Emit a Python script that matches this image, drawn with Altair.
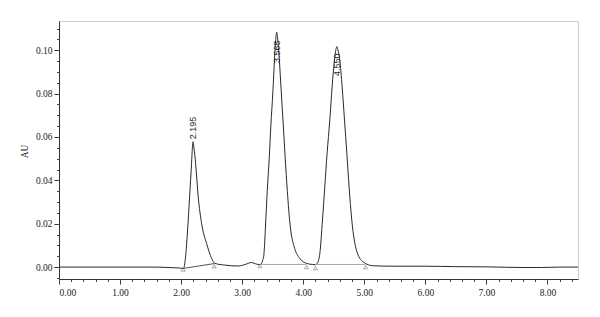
import altair as alt
import pandas as pd

# Chromatogram trace (retention time in min, absorbance in AU)
time = [0.00, 0.50, 1.00, 1.50, 1.80, 1.95, 2.04, 2.07, 2.106, 2.139, 2.171, 2.185, 2.195,
        2.208, 2.237, 2.28, 2.335, 2.417, 2.50, 2.553, 2.72, 2.93, 3.05, 3.15, 3.22, 3.29,
        3.317, 3.34, 3.355, 3.383, 3.41, 3.443, 3.47, 3.503, 3.53, 3.55, 3.565, 3.582,
        3.607, 3.64, 3.673, 3.705, 3.74, 3.785, 3.86, 3.944, 4.054, 4.15, 4.20,
        4.22, 4.25, 4.272, 4.315, 4.353, 4.391, 4.435, 4.473, 4.512, 4.535, 4.55, 4.567,
        4.599, 4.637, 4.676, 4.714, 4.751, 4.795, 4.872, 4.98, 5.145, 5.50, 6.00, 6.50,
        7.00, 7.60, 7.90, 8.20, 8.50]
absorb = [0.0000, 0.0000, 0.0000, 0.0000, -0.0002, -0.0004, -0.0006, 0.0040, 0.0171, 0.0324, 0.0479, 0.0552, 0.0578,
          0.0555, 0.0479, 0.0324, 0.0202, 0.0109, 0.0040, 0.0017, 0.0009, 0.0005, 0.0012, 0.0021, 0.0015, 0.0011,
          0.0017, 0.0035, 0.0055, 0.0194, 0.0348, 0.0502, 0.0655, 0.0809, 0.0963, 0.1050, 0.1083, 0.1052,
          0.0963, 0.0809, 0.0655, 0.0502, 0.0348, 0.0194, 0.0086, 0.0040, 0.0017, 0.0012, 0.0011,
          0.0014, 0.0030, 0.0063, 0.0217, 0.0370, 0.0525, 0.0678, 0.0832, 0.0955, 0.1003, 0.1017, 0.1003,
          0.0955, 0.0832, 0.0678, 0.0525, 0.0370, 0.0217, 0.0078, 0.0024, 0.0006, 0.0004, 0.0004, 0.0002,
          0.0001, -0.0002, -0.0002, 0.0000, 0.0000]

# Peak labels
peak_text = ["2.195", "3.565", "4.550"]
peak_rt = [2.195, 3.565, 4.550]
peak_label_y = [0.0590, 0.0941, 0.0881]

# Integration baseline segments
seg_t1 = [2.034, 3.29, 4.20]
seg_v1 = [-0.0006, 0.0012, 0.0012]
seg_t2 = [2.542, 4.054, 5.02]
seg_v2 = [0.0016, 0.0012, 0.0012]
seg_kind = ["dark", "light", "light"]

# Integration markers
marker_t = [2.034, 2.542, 3.29, 4.054, 4.20, 5.02]
marker_v = [-0.0011, 0.0004, 0.0005, 0.0000, -0.0005, 0.0000]

# Axis ticks
x_major = [0, 1, 2, 3, 4, 5, 6, 7, 8]
x_minor = [i / 5 for i in range(0, 43)]
y_major = [0.0, 0.02, 0.04, 0.06, 0.08, 0.10]
y_minor = [-0.005 + i * 0.005 for i in range(0, 25)]

curve_df = pd.DataFrame({"t": time, "v": absorb})
label_df = pd.DataFrame({"t": peak_rt, "v": peak_label_y, "txt": peak_text})
seg_df = pd.DataFrame({"t": seg_t1, "v": seg_v1, "t2": seg_t2, "v2": seg_v2, "kind": seg_kind})
marker_df = pd.DataFrame({"t": marker_t, "v": marker_v})

xs = alt.Scale(domain=[0, 8.5], nice=False, zero=False)
ys = alt.Scale(domain=[-0.0055, 0.1135], nice=False, zero=False)

serif = "Liberation Serif"

x_axis_major = alt.Axis(values=x_major, format=".2f", title=None, orient="bottom",
                        tickSize=5, tickColor="#333", domainColor="#333", grid=False,
                        labelFont=serif, labelFontSize=9.5, labelColor="#222", labelPadding=3)
y_axis_major = alt.Axis(values=y_major, format=".2f", title="AU", orient="left",
                        tickSize=5, tickColor="#333", domainColor="#333", grid=False,
                        labelFont=serif, labelFontSize=9.5, labelColor="#222", labelPadding=2,
                        titleFont=serif, titleFontSize=9.5, titleFontWeight="normal",
                        titleColor="#222", titleX=-35, titleY=130, titleBaseline="middle")
x_axis_minor = alt.Axis(values=x_minor, labels=False, title=None, orient="bottom", domain=False,
                        tickSize=2.5, tickColor="#444", grid=False)
y_axis_minor = alt.Axis(values=y_minor, labels=False, title=None, orient="left", domain=False,
                        tickSize=2.5, tickColor="#444", grid=False)

curve = alt.Chart(curve_df).mark_line(color="#2a2a2a", strokeWidth=1, interpolate="monotone").encode(
    x=alt.X("t:Q", scale=xs, axis=x_axis_major),
    y=alt.Y("v:Q", scale=ys, axis=y_axis_major),
)

segs = alt.Chart(seg_df).mark_rule(strokeWidth=1).encode(
    x=alt.X("t:Q", scale=xs, axis=x_axis_minor),
    y=alt.Y("v:Q", scale=ys, axis=y_axis_minor),
    x2="t2:Q",
    y2="v2:Q",
    color=alt.Color("kind:N", scale=alt.Scale(domain=["dark", "light"], range=["#555555", "#aaaaaa"]), legend=None),
)

markers = alt.Chart(marker_df).mark_point(shape="triangle-up", size=16, filled=False,
                                          color="#555", strokeWidth=0.7).encode(
    x=alt.X("t:Q", scale=xs, axis=None),
    y=alt.Y("v:Q", scale=ys, axis=None),
)

labels = alt.Chart(label_df).mark_text(angle=270, align="left", baseline="middle",
                                       font="Liberation Sans", fontSize=9, color="#222").encode(
    x=alt.X("t:Q", scale=xs, axis=None),
    y=alt.Y("v:Q", scale=ys, axis=None),
    text="txt:N",
)

chart = alt.layer(curve, segs, markers, labels).resolve_axis(
    x="independent", y="independent"
).properties(
    width=519, height=258,
    padding={"left": 59, "top": 21, "right": 22, "bottom": 38},
    autosize=alt.AutoSizeParams(type="none"),
    background="white",
).configure_view(stroke="#cccccc", strokeWidth=1)

chart.save("out.html", embed_options={"renderer": "svg", "actions": False})
